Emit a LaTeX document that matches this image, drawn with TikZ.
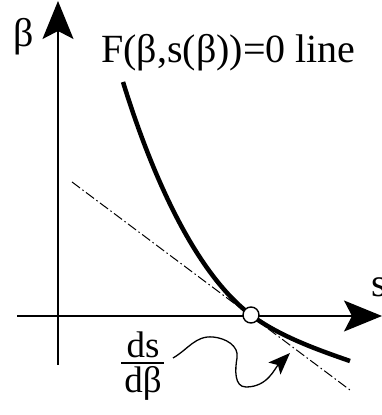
\documentclass[tikz,border=0pt]{standalone}
\usepackage{fontspec}
\setmainfont{Liberation Serif}
\usetikzlibrary{arrows.meta}
\begin{document}
\begin{tikzpicture}[x=1pt,y=1pt,
  axis/.style={line width=1.4pt},
  bigtip/.style={-{Stealth[length=38pt,width=31pt,inset=8pt]}},
  curvestyle/.style={line width=4.5pt},
  tangent/.style={line width=1pt,dash pattern=on 10pt off 3pt on 1.5pt off 3pt},
  lbl/.style={font=\fontsize{40}{42}\selectfont, inner sep=0pt},
  fraclbl/.style={font=\fontsize{37}{39}\selectfont, inner sep=0pt},
  pointmark/.style={circle,draw,fill=white,line width=1.4pt,minimum size=16pt,inner sep=0pt}]
\useasboundingbox (0,0) rectangle (381,415);
% axes
\coordinate (vbot) at (58,50);
\coordinate (vtop) at (58,414);
\coordinate (hleft) at (17,99);
\coordinate (hright) at (382,99);
\draw[axis,bigtip] (vbot) -- (vtop);
\draw[axis,bigtip] (hleft) -- (hright);
% tangent line
\coordinate (t1) at (72,233);
\coordinate (t2) at (350,25);
\draw[tangent] (t1) -- (t2);
% curve
\coordinate (c0) at (123,333);
\coordinate (c1) at (251,100);
\coordinate (c2) at (350,54);
\draw[curvestyle] (c0) .. controls (158.5,218.4) and (203,136) .. (c1)
  .. controls (279,79) and (317,65.4) .. (c2);
% point
\node[pointmark] (p) at (c1) {};
% labels
\node[lbl,anchor=center] (beta) at (24,378) {β};
\node[lbl,anchor=base west] (title) at (101,352) {F(β,s(β))=0 line};
\node[lbl,anchor=base west] (s) at (371,118) {s};
% fraction
\node[fraclbl,anchor=base] (ds) at (143,57) {ds};
\node[fraclbl,anchor=base] (db) at (143,22) {dβ};
\coordinate (barl) at (121,52);
\coordinate (barr) at (164,52);
\draw[line width=1.3pt] (barl) -- (barr);
% squiggle arrow
\coordinate (sq0) at (173,57);
\coordinate (sqtip) at (290,62);
\draw[line width=1.3pt,-{Stealth[length=22pt,width=17pt,inset=5pt]}]
  (sq0) to[out=30,in=175] (213,78) to[out=-5,in=80] (237,57)
  to[out=-100,in=180] (246,28) to[out=0,in=-135] (sqtip);
\end{tikzpicture}
\end{document}
